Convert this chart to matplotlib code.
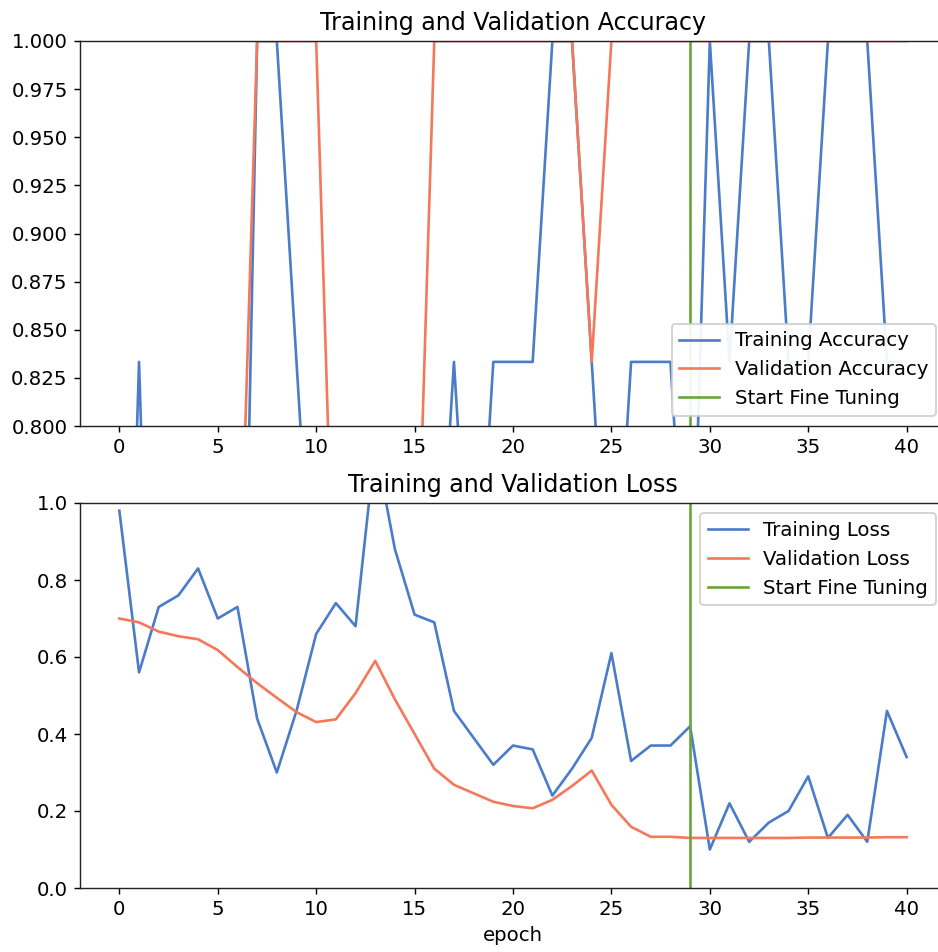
import matplotlib
matplotlib.use("Agg")
import matplotlib.pyplot as plt

# epochs 0..40, fine tuning starts after epoch 29
epochs = list(range(41))
fine_tune_at = 29

acc = [0.5, 0.8333, 0.5, 0.5, 0.5, 0.5, 0.5, 1.0, 1.0, 0.8333,
       0.6667, 0.6667, 0.5, 0.5, 0.6667, 0.5, 0.6667, 0.8333, 0.6667, 0.8333,
       0.8333, 0.8333, 1.0, 1.0, 0.8333, 0.6667, 0.8333, 0.8333, 0.8333, 0.6667,
       1.0, 0.8333, 1.0, 1.0, 0.8333, 0.8333, 1.0, 1.0, 1.0, 0.8333,
       0.8333]
val_acc = [0.6667, 0.6667, 0.6667, 0.6667, 0.6667, 0.6667, 0.6667, 1.0, 1.0, 1.0,
           1.0, 0.6667, 0.6667, 0.6667, 0.6667, 0.6667, 1.0, 1.0, 1.0, 1.0,
           1.0, 1.0, 1.0, 1.0, 0.8333, 1.0, 1.0, 1.0, 1.0, 1.0,
           1.0, 1.0, 1.0, 1.0, 1.0, 1.0, 1.0, 1.0, 1.0, 1.0,
           1.0]
loss = [0.98, 0.56, 0.73, 0.76, 0.83, 0.70, 0.73, 0.44, 0.30, 0.46,
        0.66, 0.74, 0.68, 1.15, 0.88, 0.71, 0.69, 0.46, 0.39, 0.32,
        0.37, 0.36, 0.24, 0.31, 0.39, 0.61, 0.33, 0.37, 0.37, 0.42,
        0.10, 0.22, 0.12, 0.17, 0.20, 0.29, 0.13, 0.19, 0.12, 0.46,
        0.34]
val_loss = [0.70, 0.69, 0.666, 0.654, 0.646, 0.618, 0.574, 0.532, 0.494, 0.457,
            0.431, 0.438, 0.506, 0.590, 0.49, 0.40, 0.31, 0.268, 0.246, 0.224,
            0.213, 0.207, 0.229, 0.265, 0.305, 0.216, 0.159, 0.133, 0.133, 0.130,
            0.130, 0.130, 0.130, 0.130, 0.130, 0.131, 0.131, 0.131, 0.131, 0.132,
            0.132]

c_train = '#4a7cc8'
c_val = '#f4785a'
c_green = '#6aa53a'

plt.rcParams['font.size'] = 11.2
plt.rcParams['axes.edgecolor'] = '#222222'

dpi = 127
fig = plt.figure(figsize=(938 / dpi, 952 / dpi), dpi=dpi)

ax1 = fig.add_axes([80 / 938, 1 - 426 / 952, 866 / 938, 385 / 952])
ax1.plot(epochs, acc, color=c_train, label='Training Accuracy')
ax1.plot(epochs, val_acc, color=c_val, label='Validation Accuracy')
ax1.set_ylim([0.8, 1])
ax1.plot([fine_tune_at, fine_tune_at], ax1.get_ylim(), color=c_green, label='Start Fine Tuning')
ax1.legend(loc='lower right', framealpha=0.93)
ax1.set_title('Training and Validation Accuracy')

ax2 = fig.add_axes([80 / 938, 1 - 888 / 952, 866 / 938, 385 / 952])
ax2.plot(epochs, loss, color=c_train, label='Training Loss')
ax2.plot(epochs, val_loss, color=c_val, label='Validation Loss')
ax2.set_ylim([0, 1.0])
ax2.plot([fine_tune_at, fine_tune_at], ax2.get_ylim(), color=c_green, label='Start Fine Tuning')
ax2.legend(loc='upper right', framealpha=0.93)
ax2.set_title('Training and Validation Loss')
ax2.set_xlabel('epoch')

fig.savefig('out.png', dpi=dpi)
